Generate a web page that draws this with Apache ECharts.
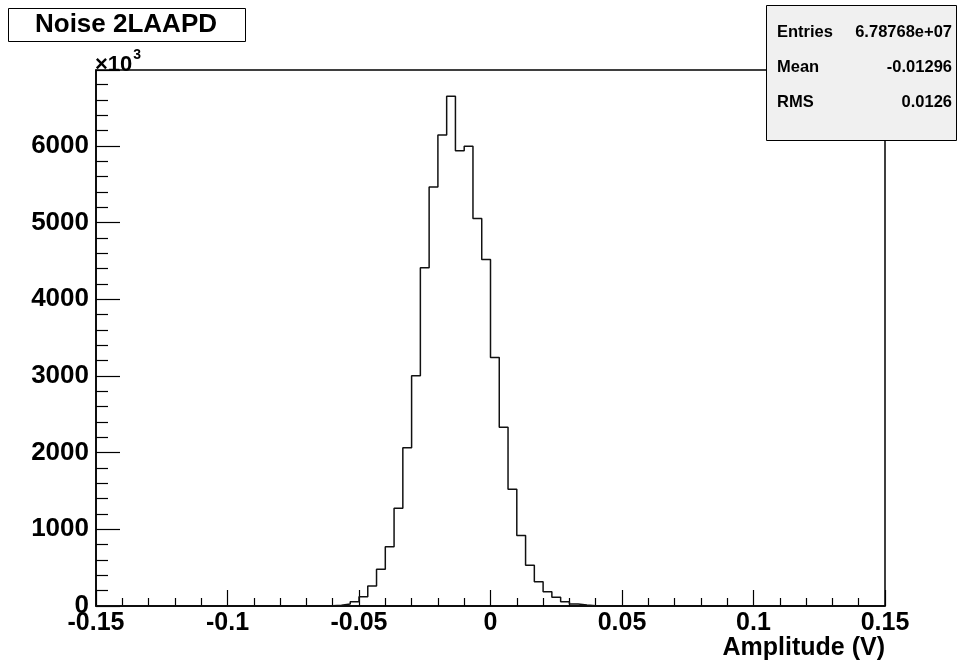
<!DOCTYPE html>
<html>
<head>
<meta charset="utf-8">
<script src="https://cdn.jsdelivr.net/npm/echarts@6/dist/echarts.min.js"></script>
<style>
html,body{margin:0;padding:0;background:#fff;}
#chart{width:959px;height:661px;}
</style>
</head>
<body>
<div id="chart"></div>
<script>
// Histogram definition
const xMin = -0.15;
const xMax = 0.15;
const nBins = 90;
const firstFilledBin = 25;
// bin contents (x10^3), starting at bin index firstFilledBin; all other bins are 0
const counts = [1, 3, 10, 26, 56, 121, 261, 478, 773, 1274,
                2064, 3003, 4411, 5463, 6141, 6649, 5936, 5997, 5055, 4520,
                3242, 2330, 1523, 920, 530, 317, 187, 113, 56, 26,
                12, 4, 1];
const xTicks = [-0.15, -0.1, -0.05, 0, 0.05, 0.1, 0.15];
const yTicks = [0, 1000, 2000, 3000, 4000, 5000, 6000];
const yMax = 6990;
const titleText = 'Noise 2LAAPD';
const xTitle = 'Amplitude (V)';
const statsLabels = ['Entries', 'Mean', 'RMS'];
const statsValues = ['6.78768e+07', '-0.01296', '0.0126'];

const FONT = '"Liberation Sans", Arial, Helvetica, sans-serif';

// Build step data: each bin's left edge with its content, plus closing edge
const binW = (xMax - xMin) / nBins;
const stepData = [];
for (let k = 0; k < nBins; k++) {
  const idx = k - firstFilledBin;
  const v = (idx >= 0 && idx < counts.length) ? counts[idx] : 0;
  stepData.push([xMin + k * binW, v]);
}
stepData.push([xMax, 0]);

const chart = echarts.init(document.getElementById('chart'), null, {renderer: 'canvas'});

const gridL = 96, gridT = 70, gridR = 74, gridB = 55;

chart.setOption({
  animation: false,
  backgroundColor: '#ffffff',
  grid: {left: gridL, top: gridT, right: gridR, bottom: gridB, show: true,
         borderColor: '#000', borderWidth: 1.5, backgroundColor: 'transparent'},
  xAxis: {
    type: 'value', min: xTicks[0], max: xTicks[xTicks.length - 1], interval: 0.05,
    axisLine: {onZero: false, lineStyle: {color: '#000', width: 1.5}},
    axisTick: {inside: true, length: 16, lineStyle: {color: '#000', width: 1.2}},
    minorTick: {show: true, splitNumber: 5, length: 8, lineStyle: {color: '#000', width: 1.2}},
    splitLine: {show: false},
    axisLabel: {
      margin: 5, color: '#000', fontFamily: FONT, fontWeight: 'bold', fontSize: 25,
      formatter: v => { const r = parseFloat(Number(v).toFixed(2)); return (r === 0 ? 0 : r).toString(); }
    },
    name: xTitle, nameLocation: 'end', nameGap: 0,
    nameTextStyle: {color: '#000', fontFamily: FONT, fontWeight: 'bold', fontSize: 25,
                    align: 'right', verticalAlign: 'top', padding: [30, 0, 0, 0]}
  },
  yAxis: {
    type: 'value', min: yTicks[0], max: yMax, interval: 1000,
    axisLine: {show: true, onZero: false, lineStyle: {color: '#000', width: 1.5}},
    axisTick: {inside: true, length: 24, lineStyle: {color: '#000', width: 1.2}},
    minorTick: {show: true, splitNumber: 5, length: 12, lineStyle: {color: '#000', width: 1.2}},
    splitLine: {show: false},
    axisLabel: {margin: 7, color: '#000', fontFamily: FONT, fontWeight: 'bold', fontSize: 26,
                showMaxLabel: false,
                formatter: v => (yTicks.indexOf(v) >= 0 ? String(v) : '')}
  },
  series: [{
    type: 'line', step: 'end', data: stepData, symbol: 'none',
    lineStyle: {color: '#111', width: 1.5}, z: 3
  }],
  graphic: [
    // title box
    {type: 'rect', shape: {x: 8.5, y: 8.5, width: 237, height: 33},
     style: {fill: '#fff', stroke: '#000', lineWidth: 1}, z: 10},
    {type: 'text', x: 126, y: 25, z: 11,
     style: {text: titleText, font: 'bold 26px ' + FONT, fill: '#000', align: 'center', verticalAlign: 'middle'}},
    // x10^3 multiplier
    {type: 'text', x: 95, y: 62, z: 11,
     style: {text: '{a|×10}{b|3}', align: 'left', verticalAlign: 'middle',
             rich: {a: {font: 'bold 22px ' + FONT, fill: '#000', verticalAlign: 'bottom'},
                    b: {font: 'bold 14px ' + FONT, fill: '#000', verticalAlign: 'top', padding: [0, 0, 14, 1]}}}},
    // stats box
    {type: 'rect', shape: {x: 766.5, y: 5.5, width: 190, height: 135},
     style: {fill: '#f0f0f0', stroke: '#000', lineWidth: 1}, z: 10},
    {type: 'text', x: 777, y: 32, z: 11,
     style: {text: statsLabels[0], font: 'bold 16.5px ' + FONT, fill: '#000', align: 'left', verticalAlign: 'middle'}},
    {type: 'text', x: 952, y: 32, z: 11,
     style: {text: statsValues[0], font: 'bold 16.5px ' + FONT, fill: '#000', align: 'right', verticalAlign: 'middle'}},
    {type: 'text', x: 777, y: 67, z: 11,
     style: {text: statsLabels[1], font: 'bold 16.5px ' + FONT, fill: '#000', align: 'left', verticalAlign: 'middle'}},
    {type: 'text', x: 952, y: 67, z: 11,
     style: {text: statsValues[1], font: 'bold 16.5px ' + FONT, fill: '#000', align: 'right', verticalAlign: 'middle'}},
    {type: 'text', x: 777, y: 102, z: 11,
     style: {text: statsLabels[2], font: 'bold 16.5px ' + FONT, fill: '#000', align: 'left', verticalAlign: 'middle'}},
    {type: 'text', x: 952, y: 102, z: 11,
     style: {text: statsValues[2], font: 'bold 16.5px ' + FONT, fill: '#000', align: 'right', verticalAlign: 'middle'}}
  ]
});
</script>
</body>
</html>
